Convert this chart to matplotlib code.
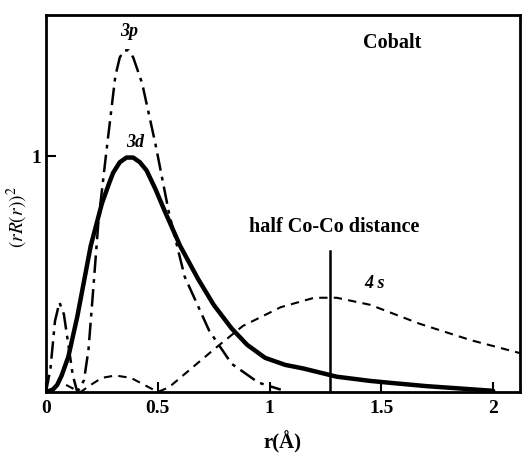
import matplotlib
matplotlib.use("Agg")
import matplotlib.pyplot as plt

plt.rcParams["mathtext.fontset"] = "stix"

# 3d radial density (solid)
r_3d = [0.0, 0.03, 0.05, 0.07, 0.10, 0.14, 0.17, 0.20, 0.25, 0.28, 0.30, 0.33, 0.36, 0.39, 0.42, 0.45,
        0.49, 0.53, 0.60, 0.68, 0.75, 0.83, 0.90, 0.98, 1.07, 1.15, 1.30, 1.45, 1.55, 1.70, 1.82, 2.0]
p_3d = [0.0, 0.01, 0.03, 0.07, 0.15, 0.32, 0.47, 0.62, 0.80, 0.88, 0.93, 0.975, 0.995, 0.995, 0.975,
        0.94, 0.86, 0.77, 0.62, 0.48, 0.37, 0.27, 0.20, 0.145, 0.115, 0.10, 0.065, 0.047, 0.038,
        0.025, 0.017, 0.005]

# 3p radial density (dash-dot)
r_3p = [0.0, 0.02, 0.04, 0.06, 0.08, 0.10, 0.12, 0.14, 0.17, 0.19, 0.21, 0.235, 0.27, 0.31, 0.33,
        0.35, 0.37, 0.39, 0.43, 0.49, 0.55, 0.62, 0.73, 0.83, 0.95, 1.05]
p_3p = [0.0, 0.10, 0.30, 0.38, 0.33, 0.20, 0.07, 0.0, 0.05, 0.18, 0.42, 0.73, 1.02, 1.34, 1.42,
        1.45, 1.45, 1.42, 1.31, 1.05, 0.76, 0.49, 0.26, 0.12, 0.04, 0.01]

# 4s radial density (dashed)
r_4s = [0.09, 0.12, 0.155, 0.20, 0.25, 0.31, 0.38, 0.45, 0.50, 0.55, 0.65, 0.75, 0.88, 1.05, 1.20,
        1.30, 1.45, 1.67, 1.90, 2.12]
p_4s = [0.03, 0.015, 0.0, 0.03, 0.06, 0.07, 0.06, 0.025, 0.0, 0.02, 0.10, 0.18, 0.28, 0.36, 0.40,
        0.40, 0.37, 0.29, 0.22, 0.165]

half_coco = 1.27
half_coco_top = 0.60

x_ticks = [0, 0.5, 1, 1.5, 2]
x_ticklabels = ["0", "0.5", "1", "1.5", "2"]
y_ticks = [1]
y_ticklabels = ["1"]

serif = ["Liberation Serif", "DejaVu Serif"]

fig = plt.figure(figsize=(5.31, 4.58), dpi=100)
ax = fig.add_axes([46 / 531, 1 - 392 / 458, (520 - 46) / 531, (392 - 15) / 458])

ax.plot(r_3d, p_3d, color="black", lw=3.2, solid_capstyle="round", solid_joinstyle="round")
ax.plot(r_3p, p_3p, color="black", lw=1.8, linestyle=(0, (7, 2.5, 1.5, 2.5)))
ax.plot(r_4s, p_4s, color="black", lw=1.5, linestyle=(0, (4, 3)))
ax.plot([half_coco, half_coco], [0, half_coco_top], color="black", lw=1.8)

ax.set_xlim(0, 2.12)
ax.set_ylim(0, 1.60)
ax.set_xticks(x_ticks)
ax.set_xticklabels(x_ticklabels, fontfamily=serif, fontweight="bold", fontsize=14)
ax.set_yticks(y_ticks)
ax.set_yticklabels(y_ticklabels, fontfamily=serif, fontweight="bold", fontsize=14)
ax.tick_params(axis="both", direction="in", length=7, width=1.5)
ax.tick_params(axis="x", pad=6)
for s in ax.spines.values():
    s.set_linewidth(2.0)

ax.text(0.37, 1.53, "3p", fontfamily=serif, fontstyle="italic", fontweight="bold", fontsize=13,
        ha="center", va="center")
ax.text(0.40, 1.06, "3d", fontfamily=serif, fontstyle="italic", fontweight="bold", fontsize=13,
        ha="center", va="center")
ax.text(1.47, 0.46, "4 s", fontfamily=serif, fontstyle="italic", fontweight="bold", fontsize=13,
        ha="center", va="center")
ax.text(1.55, 1.48, "Cobalt", fontfamily=serif, fontweight="bold", fontsize=14.5,
        ha="center", va="center")
ax.text(1.29, 0.70, "half Co-Co distance", fontfamily=serif, fontweight="bold", fontsize=14.5,
        ha="center", va="center")

ax.set_xlabel("r(Å)", fontfamily=serif, fontweight="bold", fontsize=15, labelpad=10)
fig.text(17 / 531, 1 - 217 / 458, r"$(rR(r))^2$", rotation=90, ha="center", va="center",
         fontsize=14)

fig.savefig("out.png", dpi=100)
